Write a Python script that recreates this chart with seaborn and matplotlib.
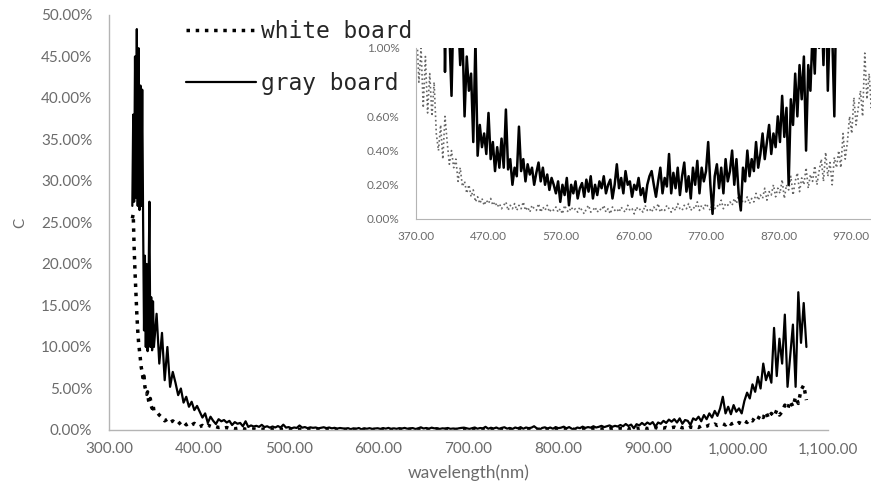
import matplotlib
matplotlib.use('Agg')
import matplotlib.pyplot as plt
import seaborn as sns
import pandas as pd
from matplotlib.ticker import FuncFormatter, MultipleLocator

# === Data (reflectance error C, in %) ===
# fine sampling over the UV spike
wl_fine = [326, 327, 328, 329, 330, 331, 332, 333, 334, 335, 336, 337, 338,
           339, 340, 341, 342, 343, 344, 345, 346, 347, 348, 349, 350]
gray_fine = [27, 38, 27.5, 45, 28, 48.3, 27, 46, 26.5, 41.5, 27, 41, 25,
             12, 21, 10, 20, 9.5, 17, 27.5, 10, 16, 9.6, 15.5, 10]
white_fine = [25.5, 26, 22, 19, 16.5, 14, 12, 10.5, 9.5, 8.5, 7.5, 7, 6,
              6.5, 5.2, 4.8, 4.3, 4.6, 3.6, 3.2, 3.8, 2.9, 2.6, 3.1, 2.3]

# coarser sampling for the rest of the range
wl_coarse = [
    353, 356, 359, 362, 365, 368, 371, 374, 377, 380,
    383, 386, 389, 392, 395, 398, 401, 404, 407, 410,
    413, 416, 419, 422, 425, 428, 431, 434, 437, 440,
    443, 446, 449, 452, 455, 458, 461, 464, 467, 470,
    473, 476, 479, 482, 485, 488, 491, 494, 497, 500,
    503, 506, 509, 512, 515, 518, 521, 524, 527, 530,
    533, 536, 539, 542, 545, 548, 551, 554, 557, 560,
    563, 566, 569, 572, 575, 578, 581, 584, 587, 590,
    593, 596, 599, 602, 605, 608, 611, 614, 617, 620,
    623, 626, 629, 632, 635, 638, 641, 644, 647, 650,
    653, 656, 659, 662, 665, 668, 671, 674, 677, 680,
    683, 686, 689, 692, 695, 698, 701, 704, 707, 710,
    713, 716, 719, 722, 725, 728, 731, 734, 737, 740,
    743, 746, 749, 752, 755, 758, 761, 764, 767, 770,
    773, 776, 779, 782, 785, 788, 791, 794, 797, 800,
    803, 806, 809, 812, 815, 818, 821, 824, 827, 830,
    833, 836, 839, 842, 845, 848, 851, 854, 857, 860,
    863, 866, 869, 872, 875, 878, 881, 884, 887, 890,
    893, 896, 899, 902, 905, 908, 911, 914, 917, 920,
    923, 926, 929, 932, 935, 938, 941, 944, 947, 950,
    953, 956, 959, 962, 965, 968, 971, 974, 977, 980,
    983, 986, 989, 992, 995, 998, 1001, 1004, 1007, 1010,
    1013, 1016, 1019, 1022, 1025, 1028, 1031, 1034, 1037, 1040,
    1043, 1046, 1049, 1052, 1055, 1058, 1061, 1064, 1067, 1070,
    1073, 1076]
gray_coarse = [
    14, 8, 11.7, 6, 10, 5.2, 7, 5.7, 4.2, 5,
    3.3, 4, 2.8, 3.4, 2.4, 2.9, 2.2, 1.5, 2.0, 0.86,
    1.6, 1.1, 0.72, 1.3, 1.05, 1.2, 0.9, 1.1, 0.6, 0.95,
    0.75, 0.85, 0.45, 1.05, 0.37, 0.55, 0.42, 0.5, 0.38, 0.62,
    0.35, 0.45, 0.28, 0.42, 0.3, 0.47, 0.3, 0.64, 0.29, 0.35,
    0.2, 0.3, 0.25, 0.54, 0.28, 0.35, 0.22, 0.32, 0.26, 0.3,
    0.2, 0.27, 0.33, 0.22, 0.3, 0.2, 0.26, 0.17, 0.24, 0.2,
    0.15, 0.22, 0.1, 0.2, 0.14, 0.24, 0.08, 0.2, 0.15, 0.22,
    0.12, 0.18, 0.21, 0.13, 0.23, 0.16, 0.25, 0.12, 0.2, 0.14,
    0.22, 0.18, 0.25, 0.15, 0.2, 0.23, 0.12, 0.2, 0.32, 0.18,
    0.24, 0.15, 0.28, 0.2, 0.22, 0.13, 0.2, 0.17, 0.24, 0.14,
    0.18, 0.1, 0.2, 0.25, 0.28, 0.2, 0.13, 0.22, 0.3, 0.15,
    0.24, 0.19, 0.38, 0.15, 0.27, 0.18, 0.3, 0.14, 0.25, 0.33,
    0.16, 0.25, 0.12, 0.3, 0.2, 0.34, 0.15, 0.3, 0.22, 0.28,
    0.45, 0.2, 0.03, 0.25, 0.32, 0.18, 0.3, 0.15, 0.35, 0.22,
    0.28, 0.4, 0.2, 0.35, 0.15, 0.05, 0.3, 0.22, 0.4, 0.25,
    0.35, 0.28, 0.45, 0.3, 0.38, 0.5, 0.35, 0.45, 0.55, 0.38,
    0.5, 0.42, 0.6, 0.45, 0.72, 0.48, 0.65, 0.2, 0.7, 0.55,
    0.85, 0.6, 0.9, 0.7, 0.95, 0.4, 0.9, 0.75, 1.1, 0.85,
    1.25, 1.0, 1.3, 0.9, 1.4, 0.75, 1.2, 1.1, 0.6, 1.4,
    1.2, 1.6, 1.05, 1.8, 1.3, 2.0, 1.5, 2.3, 1.7, 2.6,
    4.0, 2.0, 2.8, 1.9, 3.0, 2.2, 2.6, 2.0, 3.5, 4.5,
    3.8, 5.5, 4.6, 6.4, 5.0, 8.0, 6.0, 7.0, 5.7, 12.3,
    6.5, 11.0, 8.0, 13.9, 5.2, 9.0, 12.7, 5.2, 16.6, 10.5,
    15.3, 10.0]
white_coarse = [
    2.2, 1.8, 1.5, 1.1, 1.3, 0.9, 1.1, 0.8, 1.0, 0.65,
    0.95, 0.62, 0.85, 0.6, 0.8, 0.5, 0.4, 0.55, 0.35, 0.6,
    0.45, 0.32, 0.4, 0.3, 0.35, 0.22, 0.3, 0.19, 0.22, 0.15,
    0.2, 0.13, 0.17, 0.1, 0.13, 0.09, 0.12, 0.08, 0.11, 0.09,
    0.12, 0.08, 0.1, 0.07, 0.09, 0.06, 0.08, 0.1, 0.05, 0.08,
    0.06, 0.09, 0.05, 0.08, 0.06, 0.1, 0.05, 0.07, 0.04, 0.08,
    0.06, 0.05, 0.09, 0.04, 0.07, 0.05, 0.08, 0.04, 0.06, 0.05,
    0.07, 0.04, 0.06, 0.03, 0.08, 0.05, 0.04, 0.07, 0.05, 0.06,
    0.04, 0.07, 0.05, 0.03, 0.06, 0.08, 0.04, 0.05, 0.07, 0.04,
    0.06, 0.05, 0.08, 0.04, 0.06, 0.03, 0.07, 0.05, 0.06, 0.04,
    0.07, 0.05, 0.04, 0.08, 0.05, 0.06, 0.03, 0.07, 0.05, 0.06,
    0.04, 0.08, 0.05, 0.06, 0.04, 0.07, 0.05, 0.09, 0.04, 0.06,
    0.05, 0.08, 0.06, 0.04, 0.07, 0.05, 0.09, 0.06, 0.05, 0.08,
    0.06, 0.09, 0.05, 0.07, 0.06, 0.1, 0.05, 0.08, 0.06, 0.09,
    0.07, 0.05, 0.1, 0.06, 0.08, 0.07, 0.11, 0.06, 0.09, 0.08,
    0.1, 0.08, 0.12, 0.09, 0.14, 0.08, 0.11, 0.1, 0.13, 0.09,
    0.12, 0.1, 0.15, 0.11, 0.14, 0.12, 0.18, 0.11, 0.16, 0.14,
    0.2, 0.13, 0.18, 0.15, 0.23, 0.12, 0.2, 0.17, 0.25, 0.14,
    0.22, 0.27, 0.16, 0.24, 0.2, 0.3, 0.18, 0.26, 0.22, 0.31,
    0.2, 0.28, 0.35, 0.22, 0.39, 0.25, 0.33, 0.2, 0.36, 0.3,
    0.4, 0.3, 0.5, 0.35, 0.45, 0.6, 0.5, 0.71, 0.55, 0.65,
    0.75, 0.6, 0.97, 0.7, 0.85, 0.65, 0.9, 0.75, 1.1, 0.9,
    1.3, 1.1, 1.6, 1.3, 1.9, 1.5, 2.2, 1.4, 2.0, 1.6,
    2.4, 1.8, 2.2, 3.0, 2.5, 3.5, 2.8, 4.0, 3.2, 4.8,
    5.4, 3.6]

inset_xticks = [370, 470, 570, 670, 770, 870, 970, 1070]

df = pd.DataFrame({
    'wavelength': wl_fine + wl_coarse,
    'white board': white_fine + white_coarse,
    'gray board': gray_fine + gray_coarse,
})

# === Style ===
sns.set_style('white')
plt.rcParams['font.family'] = ['Lato', 'DejaVu Sans']
tick_col = '#6b6b6b'
spine_col = '#b4b4b4'

fig = plt.figure(figsize=(8.71, 4.93), dpi=100)

# === Main chart ===
ax = fig.add_axes([0.1251, 0.1278, 0.8255, 0.8418])
sns.lineplot(data=df, x='wavelength', y='white board', ax=ax, color='black',
             lw=2.5, linestyle=':', label='white board')
sns.lineplot(data=df, x='wavelength', y='gray board', ax=ax, color='black',
             lw=1.6, label='gray board')
ax.set_xlim(300, 1100)
ax.set_ylim(0, 50)
ax.xaxis.set_major_locator(MultipleLocator(100))
ax.yaxis.set_major_locator(MultipleLocator(5))
ax.xaxis.set_major_formatter(FuncFormatter(lambda v, p: f'{v:,.2f}'))
ax.yaxis.set_major_formatter(FuncFormatter(lambda v, p: f'{v:.2f}%'))
for s in ['top', 'right']:
    ax.spines[s].set_visible(False)
for s in ['left', 'bottom']:
    ax.spines[s].set_color(spine_col)
    ax.spines[s].set_linewidth(1)
ax.tick_params(axis='both', length=0, labelsize=11, colors=tick_col)
ax.tick_params(axis='y', pad=12)
ax.tick_params(axis='x', pad=9)
ax.set_xlabel('wavelength(nm)', fontsize=12.5, color=tick_col, labelpad=6)
ax.set_ylabel('C', fontsize=11, color=tick_col, labelpad=10)
handles, labels = ax.get_legend_handles_labels()
ax.get_legend().remove()

# === Inset zoom on 0-1 % ===
ins = fig.add_axes([0.4776, 0.5558, 0.5827, 0.3469])
ins.set_facecolor('white')
sns.lineplot(data=df, x='wavelength', y='white board', ax=ins, color='#666666',
             lw=1.2, linestyle=':', legend=False)
sns.lineplot(data=df, x='wavelength', y='gray board', ax=ins, color='black',
             lw=1.8, legend=False)
ins.set_xlim(370, 1070)
ins.set_ylim(0, 1)
ins.set_xticks(inset_xticks)
ins.yaxis.set_major_locator(MultipleLocator(0.2))
ins.xaxis.set_major_formatter(FuncFormatter(lambda v, p: f'{v:,.2f}'))
ins.yaxis.set_major_formatter(FuncFormatter(lambda v, p: f'{v:.2f}%'))
for s in ['top', 'right']:
    ins.spines[s].set_visible(False)
for s in ['left', 'bottom']:
    ins.spines[s].set_color(spine_col)
ins.tick_params(axis='both', length=0, labelsize=8.5, colors=tick_col)
ins.tick_params(axis='y', pad=12)
ins.tick_params(axis='x', pad=9)
ins.set_xlabel('')
ins.set_ylabel('')

# === Legend at the top left ===
leg = fig.legend(handles, labels, loc='upper left',
                 bbox_to_anchor=(186 / 871, 1 - 20 / 493),
                 frameon=False, prop={'family': 'DejaVu Sans Mono', 'size': 16.5},
                 handlelength=3.05, handletextpad=0.22, labelspacing=1.27,
                 borderpad=0, borderaxespad=0)
# the second label sits over the inset's 0.80% tick, as in the source figure
leg.get_texts()[1].set_bbox(dict(facecolor='white', edgecolor='none', pad=1))

fig.savefig('out.png', dpi=100)
